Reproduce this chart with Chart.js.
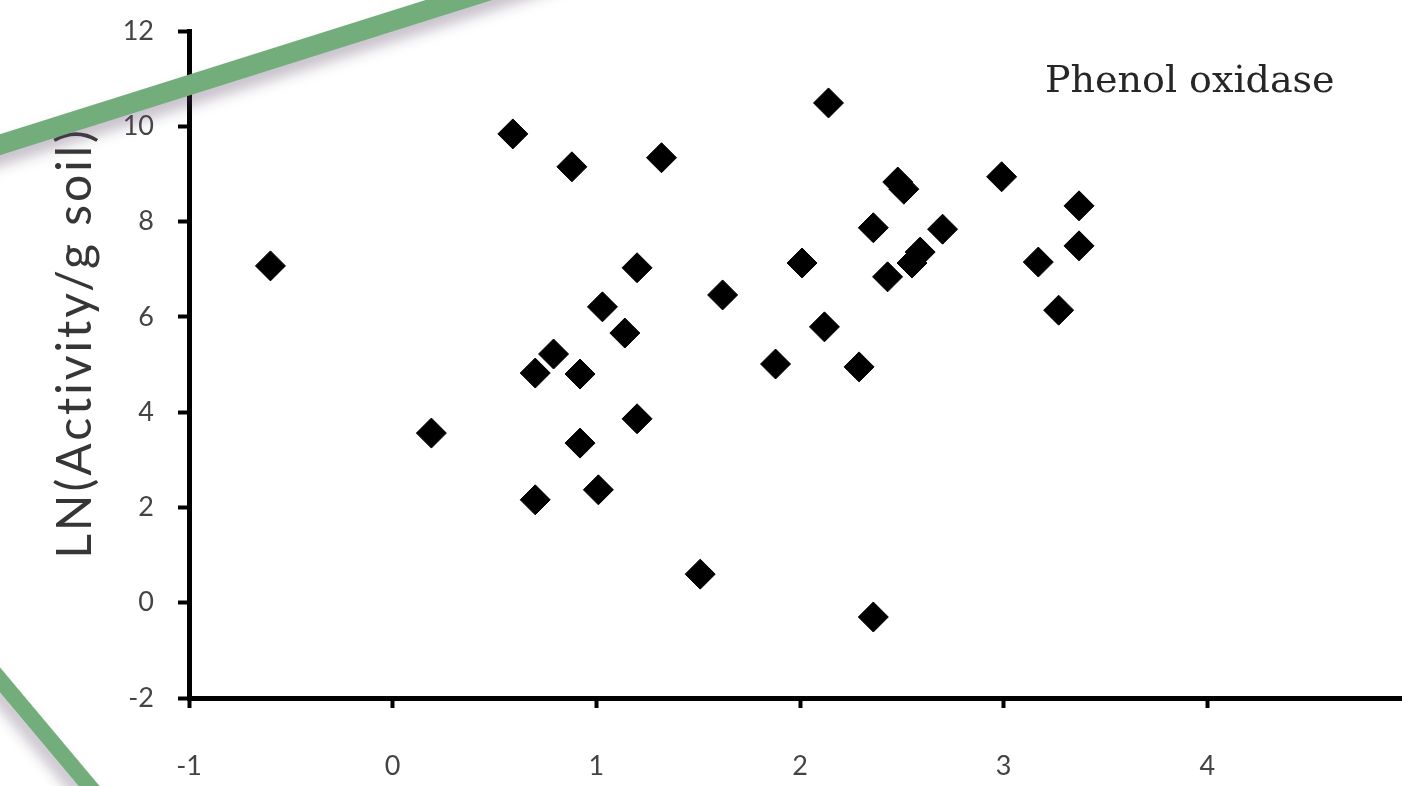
<!DOCTYPE html>
<html>
<head>
<meta charset="utf-8">
<script src="https://cdn.jsdelivr.net/npm/chart.js@4.4.1/dist/chart.umd.min.js"></script>
<style>
  html, body { margin: 0; padding: 0; background: #fff; overflow: hidden; }
  #wrap { position: relative; width: 1402px; height: 786px; overflow: hidden; }
  #chart { position: absolute; left: 0; top: 0; }
  .band { position: absolute; height: 20px; background: #72ad7b; transform-origin: 0 50%;
          box-shadow: 0 10px 14px rgba(90, 70, 100, 0.35); }
</style>
</head>
<body>
<div id="wrap">
  <canvas id="chart" width="1427" height="786"></canvas>
  <div class="band" style="left:-20px; top:141px; width:620px; transform: rotate(-17.5deg);"></div>
  <div class="band" style="left:-20px; top:648px; width:260px; height:16px; transform: rotate(50deg);"></div>
</div>
<script>
// LN(activity) vs x
const xValues = [-0.60, 0.19, 0.59, 0.88, 1.32, 2.14, 0.70, 0.79, 0.92, 0.92, 0.70, 1.01,
                 1.03, 1.14, 1.20, 1.20, 1.51, 1.62, 1.88, 2.01, 2.12, 2.29, 2.36, 2.36,
                 2.43, 2.48, 2.51, 2.55, 2.59, 2.70, 2.99, 3.17, 3.27, 3.37, 3.37];
const yValues = [7.07, 3.56, 9.84, 9.15, 9.34, 10.49, 4.82, 5.22, 4.80, 3.35, 2.16, 2.37,
                 6.21, 5.66, 7.03, 3.86, 0.60, 6.46, 5.01, 7.13, 5.79, 4.95, 7.87, -0.30,
                 6.84, 8.83, 8.68, 7.13, 7.36, 7.84, 8.94, 7.15, 6.14, 8.33, 7.49];

const xMin = -1, xMax = 5, yMin = -2, yMax = 12;
const seriesLabel = 'Phenol oxidase';
const yTitle = 'LN(Activity/g soil)';

const points = xValues.map((x, i) => ({ x: x, y: yValues[i] }));

// draws the rotated y title and the panel label inside the canvas
const textLabels = {
  id: 'textLabels',
  afterDraw(chart) {
    const ctx = chart.ctx;
    ctx.save();
    ctx.fillStyle = '#363636';
    ctx.font = '48px Lato';
    ctx.letterSpacing = '3px';
    ctx.textAlign = 'center';
    ctx.textBaseline = 'middle';
    ctx.translate(76, 343);
    ctx.rotate(-Math.PI / 2);
    ctx.fillText(yTitle, 0, 0);
    ctx.restore();

    ctx.save();
    ctx.fillStyle = '#262626';
    ctx.font = '38px "DejaVu Serif"';
    ctx.textAlign = 'left';
    ctx.textBaseline = 'alphabetic';
    ctx.fillText(seriesLabel, 1045, 92);
    ctx.restore();
  }
};

new Chart(document.getElementById('chart'), {
  type: 'scatter',
  data: {
    datasets: [{
      label: seriesLabel,
      data: points,
      pointStyle: 'rectRot',
      pointRadius: 15,
      pointHoverRadius: 15,
      backgroundColor: '#000',
      borderColor: '#000',
      borderWidth: 1
    }]
  },
  options: {
    responsive: false,
    animation: false,
    events: [],
    layout: { padding: { top: 31, right: 2, left: 0, bottom: 0 } },
    scales: {
      x: {
        type: 'linear',
        min: xMin,
        max: xMax,
        afterFit: s => { s.height = 88; s.paddingLeft = 0; s.paddingRight = 0; },
        border: { display: true, color: '#000', width: 5 },
        grid: { drawOnChartArea: false, drawTicks: true, tickLength: 10, tickWidth: 4, tickColor: '#000' },
        ticks: {
          stepSize: 1,
          padding: 42,
          color: '#444',
          font: { family: 'Lato', size: 27 },
          callback: v => (v === xMax ? '' : v)
        }
      },
      y: {
        type: 'linear',
        min: yMin,
        max: yMax,
        afterFit: s => { s.width = 189; s.paddingTop = 0; s.paddingBottom = 0; },
        border: { display: true, color: '#000', width: 5 },
        grid: { drawOnChartArea: false, drawTicks: true, tickLength: 11, tickWidth: 4, tickColor: '#000' },
        ticks: {
          stepSize: 2,
          padding: 24,
          color: '#444',
          font: { family: 'Lato', size: 27 }
        }
      }
    },
    plugins: {
      legend: { display: false },
      tooltip: { enabled: false }
    }
  },
  plugins: [textLabels]
});
</script>
</body>
</html>
